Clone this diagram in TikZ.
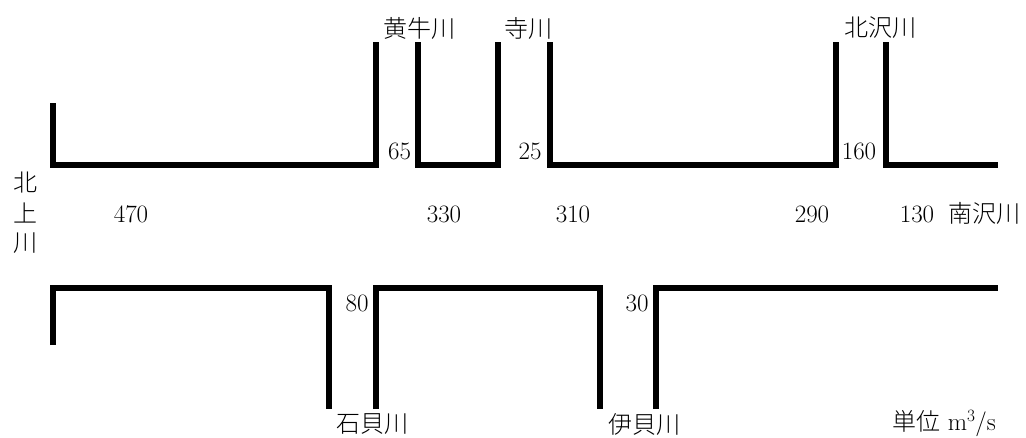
\documentclass[tikz,border=0pt]{standalone}
\usepackage{fontspec}
\newfontfamily\jp{Noto Sans CJK JP Light}
\begin{document}
\begin{tikzpicture}[x=1pt,y=-1pt,
  river/.style={line width=6pt,line join=miter,line cap=butt},
  num/.style={inner sep=0pt,font=\fontsize{25}{25}\selectfont},
  jlabel/.style={inner sep=0pt,font=\fontsize{24}{24}\selectfont\jp}]
\useasboundingbox (0,0) rectangle (1026,437);
% top bank
\draw[river] (52.5,103) -- (52.5,164.5) -- (376,164.5) -- (376,42);
\draw[river] (418,42) -- (418,164.5) -- (497.5,164.5) -- (497.5,42);
\draw[river] (550,42) -- (550,164.5) -- (836,164.5) -- (836,42);
\draw[river] (886,42) -- (886,164.5) -- (998,164.5);
% bottom bank
\draw[river] (52.5,345) -- (52.5,288) -- (329,288) -- (329,409);
\draw[river] (376,409) -- (376,288) -- (600,288) -- (600,409);
\draw[river] (656,409) -- (656,288) -- (998,288);
% tributary names
\node[jlabel] (kogyu) at (419,28) {黄牛川};
\node[jlabel] (tera) at (528,28) {寺川};
\node[jlabel] (kitasawa) at (880,28) {北沢川};
\node[jlabel] (ishigai) at (372,424) {石貝川};
\node[jlabel] (igai) at (644,424) {伊貝川};
\node[jlabel] (minamisawa) at (984,213) {南沢川};
\node[jlabel] (k1) at (25,183) {北};
\node[jlabel] (k2) at (25,213) {上};
\node[jlabel] (k3) at (25,243) {川};
% flows
\node[num] (q65) at (399.5,151) {65};
\node[num] (q25) at (530,151) {25};
\node[num] (q160) at (859,151) {160};
\node[num] (q470) at (131,214) {470};
\node[num] (q330) at (444,214) {330};
\node[num] (q310) at (573,214) {310};
\node[num] (q290) at (812,214) {290};
\node[num] (q130) at (917,214) {130};
\node[num] (q80) at (357,303) {80};
\node[num] (q30) at (637,303) {30};
\node[num,anchor=west] (unit) at (892,424) {{\fontsize{24}{24}\selectfont\jp 単位} m$^3$/s};
\end{tikzpicture}
\end{document}
